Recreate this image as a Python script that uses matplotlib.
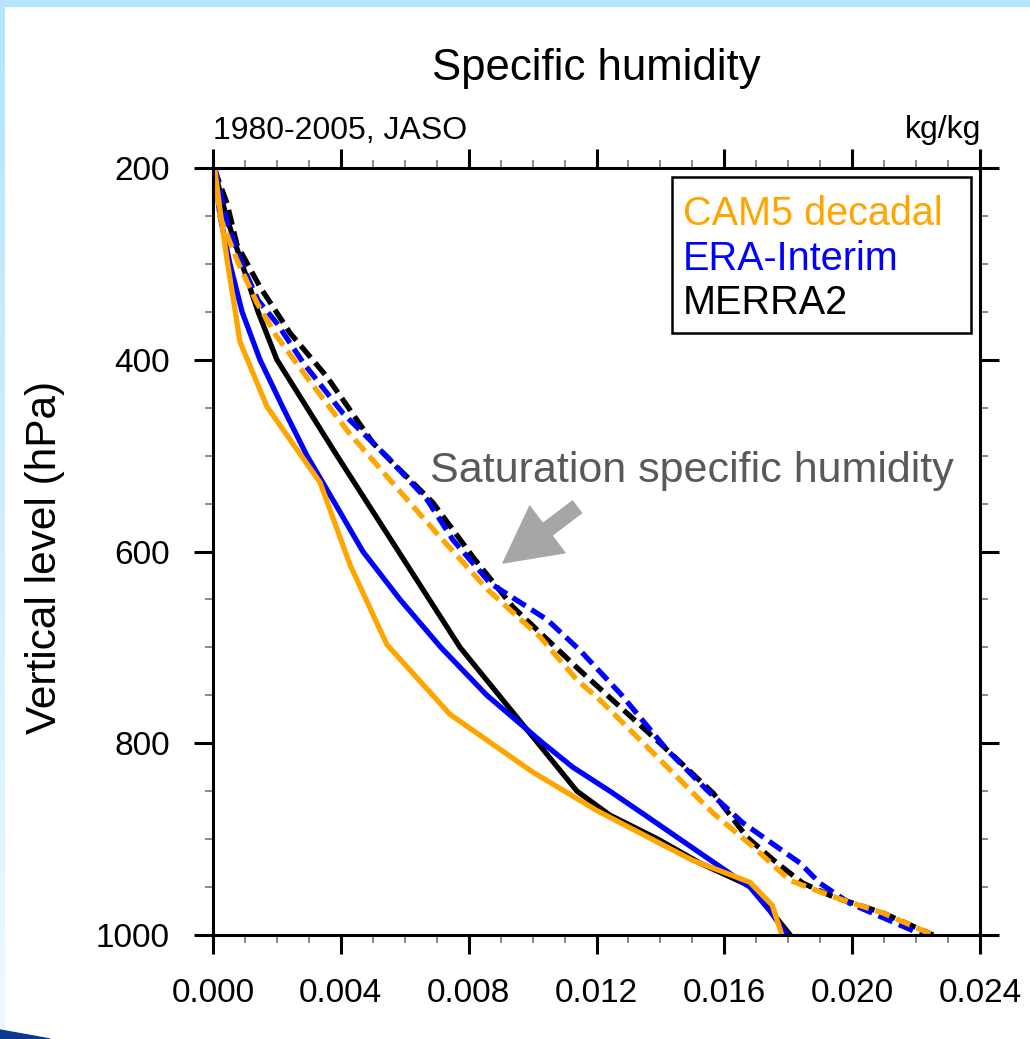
import matplotlib
matplotlib.use('Agg')
import matplotlib.pyplot as plt
import numpy as np
from matplotlib.patches import Rectangle, Polygon
from matplotlib.ticker import MultipleLocator, FormatStrFormatter

plt.rcParams['font.family'] = ['Liberation Sans', 'DejaVu Sans']
plt.rcParams['lines.scale_dashes'] = False

# ---- data (pressure in hPa, specific humidity in kg/kg) ----
cam5_p = [200, 244, 296, 348, 381, 449, 528, 614, 697, 770, 830, 870, 922, 945, 969, 1000]
cam5_q = [0.00005, 0.00022, 0.00044, 0.00069, 0.00084, 0.00169, 0.00335, 0.00429, 0.00544,
          0.00742, 0.0100, 0.0120, 0.0150, 0.0168, 0.0175, 0.0178]

cam5_qs_p = [200, 251, 296, 341, 376, 421, 476, 522, 581, 640, 689, 734, 755, 814, 873, 908,
             943, 960, 977, 1000]
cam5_qs = [0.00003, 0.00022, 0.00075, 0.00138, 0.00200, 0.00300, 0.00425, 0.00545, 0.00700,
           0.00860, 0.01023, 0.01139, 0.01211, 0.01389, 0.01565, 0.0169, 0.01805, 0.0194,
           0.02096, 0.02253]

era_p = [200, 225, 250, 300, 350, 400, 450, 500, 550, 600, 650, 700, 750, 775, 800, 825, 850,
         875, 900, 925, 950, 975, 1000]
era_q = [0.00005, 0.00013, 0.00022, 0.00053, 0.00091, 0.00147, 0.00219, 0.00294, 0.00382,
         0.00469, 0.00585, 0.00713, 0.00857, 0.00945, 0.01033, 0.01126, 0.01242, 0.01352,
         0.01461, 0.0157, 0.0168, 0.01743, 0.01796]

era_qs_p = [200, 223, 257, 303, 338, 362, 403, 456, 501, 546, 588, 633, 671, 703, 748, 807,
            849, 883, 925, 946, 967, 1000]
era_qs = [0.00006, 0.00022, 0.00044, 0.00094, 0.00141, 0.0020, 0.00282, 0.00407, 0.00544,
          0.0067, 0.00751, 0.00867, 0.01045, 0.01148, 0.01274, 0.01421, 0.01546, 0.01658,
          0.01837, 0.01899, 0.01993, 0.02222]

merra_p = [200, 250, 300, 350, 400, 500, 700, 850, 875, 900, 925, 950, 975, 1000]
merra_q = [0.00003, 0.00041, 0.00091, 0.00141, 0.0020, 0.00388, 0.00773, 0.01139, 0.01242,
           0.01392, 0.01524, 0.01687, 0.01746, 0.01806]

merra_qs_p = [200, 237, 280, 324, 372, 418, 487, 549, 606, 658, 724, 800, 852, 898, 925, 946,
              960, 977, 1000]
merra_qs = [0.00003, 0.00044, 0.00075, 0.00147, 0.00241, 0.00357, 0.00501, 0.00688, 0.00814,
            0.00939, 0.01148, 0.01399, 0.01565, 0.01671, 0.01765, 0.01846, 0.0194, 0.02096,
            0.02253]

labels = ['CAM5 decadal', 'ERA-Interim', 'MERRA2']
colors = ['#ffa500', '#0000ff', '#000000']

x_ticks = [0.0, 0.004, 0.008, 0.012, 0.016, 0.020, 0.024]
y_ticks = [200, 400, 600, 800, 1000]

# ---- figure ----
fig = plt.figure(figsize=(10.30, 10.39), dpi=100)

# slide frame bits (light blue border, dark swoosh)
fig.patches.append(Rectangle((0, 1 - 6 / 1039), 1, 6 / 1039, transform=fig.transFigure,
                             color='#b3e5fc', zorder=0))
grad = fig.add_axes([0, 0, 5 / 1030, 1 - 6 / 1039])
grad.imshow(np.linspace(0, 1, 100).reshape(-1, 1), aspect='auto',
            cmap=matplotlib.colors.LinearSegmentedColormap.from_list('g', ['#b3e5fc', '#eef8fe']))
grad.axis('off')
fig.patches.append(Polygon([(0, 0), (50 / 1030, 0), (0, 9 / 1039)], closed=True,
                           transform=fig.transFigure, color='#0a3a8c', zorder=0))

ax = fig.add_axes([213 / 1030, 1 - 935 / 1039, 767 / 1030, 767 / 1039])

lw = 3.8
dash = (0, (11, 5))
ax.plot(merra_q, merra_p, color=colors[2], lw=lw)
ax.plot(merra_qs, merra_qs_p, color=colors[2], lw=lw, linestyle=dash)
ax.plot(era_q, era_p, color=colors[1], lw=lw)
ax.plot(era_qs, era_qs_p, color=colors[1], lw=lw, linestyle=dash)
ax.plot(cam5_q, cam5_p, color=colors[0], lw=lw)
ax.plot(cam5_qs, cam5_qs_p, color=colors[0], lw=lw, linestyle=dash)

ax.set_xlim(0, 0.024)
ax.set_ylim(1000, 200)
ax.set_xticks(x_ticks)
ax.set_yticks(y_ticks)
ax.xaxis.set_major_formatter(FormatStrFormatter('%.3f'))
ax.xaxis.set_minor_locator(MultipleLocator(0.001))
ax.yaxis.set_minor_locator(MultipleLocator(50))
ax.tick_params(which='major', direction='out', length=14, width=2.2, pad=17,
               labelsize=24, top=True, right=True)
ax.tick_params(which='minor', direction='out', length=6, width=1.3, color='#808080',
               top=True, right=True)
for sp in ax.spines.values():
    sp.set_linewidth(2.2)

# legend box drawn by hand (text only, no line samples)
ax.add_patch(Rectangle((0.5985, 0.7849), 0.3898, 0.2034, transform=ax.transAxes,
                       fill=False, edgecolor='black', lw=1.8, zorder=5))
for lab, c, yb in zip(labels, colors, [0.9263, 0.8664, 0.809]):
    ax.text(0.6128, yb, lab, color=c, fontsize=28.5, transform=ax.transAxes,
            ha='left', va='baseline', zorder=6)

# annotation
ax.text(0.2829, 0.5906, 'Saturation specific humidity', color='#595959', fontsize=31,
        transform=ax.transAxes, ha='left', va='baseline')
ax.annotate('', xy=(0.3781, 0.485), xytext=(0.4746, 0.558),
            xycoords='axes fraction', textcoords='axes fraction',
            arrowprops=dict(arrowstyle='simple,head_length=2.0,head_width=2.1,tail_width=0.54',
                            color='#a6a6a6', mutation_scale=20, shrinkA=0, shrinkB=0))

# titles
fig.text(596.5 / 1030, 1 - 80 / 1039, 'Specific humidity', fontsize=31.5,
         ha='center', va='baseline')
fig.text(213 / 1030, 1 - 139 / 1039, '1980-2005, JASO', fontsize=23, ha='left', va='baseline')
fig.text(981 / 1030, 1 - 138 / 1039, 'kg/kg', fontsize=23, ha='right', va='baseline')
fig.text(45 / 1030, 1 - 557 / 1039, 'Vertical level (hPa)', fontsize=30.5, rotation=90,
         ha='center', va='center')

fig.savefig('out.png', dpi=100)
